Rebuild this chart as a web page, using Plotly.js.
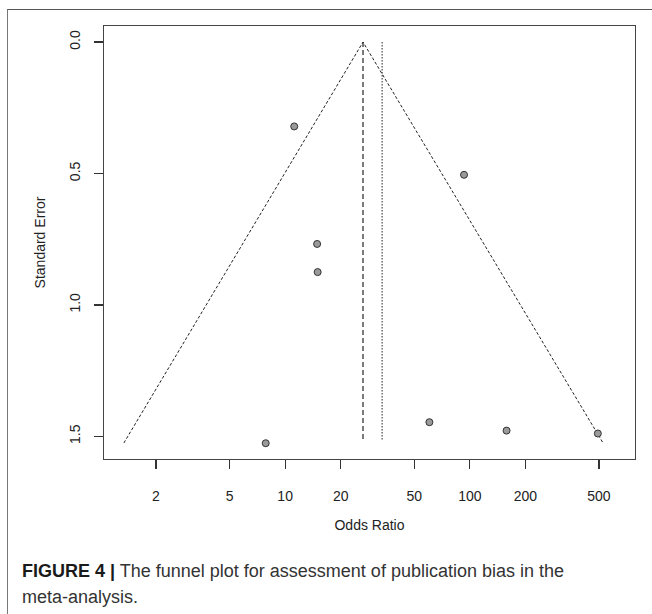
<!DOCTYPE html>
<html>
<head>
<meta charset="utf-8">
<script src="https://cdn.plot.ly/plotly-3.0.1.min.js"></script>
<style>
  html, body { margin: 0; padding: 0; background: #fff; }
  #wrap { position: relative; width: 652px; height: 614px; overflow: hidden; }
  #frame { position: absolute; left: 7px; top: 9px; width: 660px; height: 620px;
           border-top: 1.5px solid #555; border-left: 1.5px solid #777; }
  #chart { position: absolute; left: 0; top: 0; width: 652px; height: 614px; }
</style>
</head>
<body>
<div id="wrap">
  <div id="frame"></div>
  <div id="chart"></div>
</div>
<script>
// Study estimates (odds ratio) and their standard errors
const studyOR = [11.2, 93.0, 14.9, 15.0, 7.85, 60.4, 158, 493];
const studySE = [0.321, 0.505, 0.768, 0.875, 1.526, 1.446, 1.478, 1.489];

// Funnel boundary (pseudo 95% CI)
const funnelOR = [1.34, 26.4, 526];
const funnelSE = [1.525, 0, 1.525];

// Pooled estimate lines
const pooledDashedOR = [26.4, 26.4];
const pooledDottedOR = [33.5, 33.5];
const pooledSE = [0, 1.515];

// Axis ticks
const xTickVals = [2, 5, 10, 20, 50, 100, 200, 500];
const xTickText = ['2', '5', '10', '20', '50', '100', '200', '500'];
const yTickVals = [0, 0.5, 1.0, 1.5];
const yTickText = ['0.0', '0.5', '1.0', '1.5'];

const traces = [
  { x: funnelOR, y: funnelSE, mode: 'lines', type: 'scatter',
    line: { color: '#222', width: 1, dash: '3px,2px' }, hoverinfo: 'skip' },
  { x: pooledDashedOR, y: pooledSE, mode: 'lines', type: 'scatter',
    line: { color: '#222', width: 1.2, dash: '5px,3px' }, hoverinfo: 'skip' },
  { x: pooledDottedOR, y: pooledSE, mode: 'lines', type: 'scatter',
    line: { color: '#222', width: 1, dash: '1.5px,1.5px' }, hoverinfo: 'skip' },
  { x: studyOR, y: studySE, mode: 'markers', type: 'scatter',
    marker: { size: 7, color: '#9a9a9a', line: { color: '#333', width: 1 } } }
];

const axisFont = { family: 'Liberation Sans, Arial, sans-serif', size: 14, color: '#222' };
const capFont = { family: 'Liberation Sans, Arial, sans-serif', size: 18, color: '#333' };

const layout = {
  width: 652, height: 614,
  margin: { l: 104, r: 17, t: 26, b: 155 },
  paper_bgcolor: 'rgba(0,0,0,0)', plot_bgcolor: '#fff',
  showlegend: false,
  font: axisFont,
  xaxis: {
    type: 'log', range: [0.0195, 2.894],
    tickvals: xTickVals, ticktext: xTickText,
    ticks: 'outside', ticklen: 9, tickwidth: 1.2, tickcolor: '#333',
    showgrid: false, zeroline: false,
    showline: true, mirror: true, linecolor: '#444', linewidth: 1.3,
    ticklabelstandoff: 15,
    tickfont: axisFont,
    title: { text: 'Odds Ratio', font: axisFont, standoff: 17 }
  },
  yaxis: {
    range: [1.586, -0.061],
    tickvals: yTickVals, ticktext: yTickText,
    tickangle: -90,
    ticks: 'outside', ticklen: 9, tickwidth: 1.2, tickcolor: '#333',
    showgrid: false, zeroline: false,
    showline: true, mirror: true, linecolor: '#444', linewidth: 1.3,
    ticklabelstandoff: 8,
    tickfont: axisFont,
    title: { text: 'Standard Error', font: axisFont, standoff: 18 }
  },
  annotations: [
    { xref: 'paper', yref: 'paper', x: -0.1582, y: -0.2592, xanchor: 'left', yanchor: 'middle',
      showarrow: false, align: 'left',
      text: '<b><span style="color:#1a1a1a">FIGURE 4 |</span></b> The funnel plot for assessment of publication bias in the',
      font: capFont },
    { xref: 'paper', yref: 'paper', x: -0.1582, y: -0.3192, xanchor: 'left', yanchor: 'middle',
      showarrow: false, align: 'left',
      text: 'meta-analysis.',
      font: capFont }
  ]
};

Plotly.newPlot('chart', traces, layout, { displayModeBar: false, staticPlot: true });
</script>
</body>
</html>
